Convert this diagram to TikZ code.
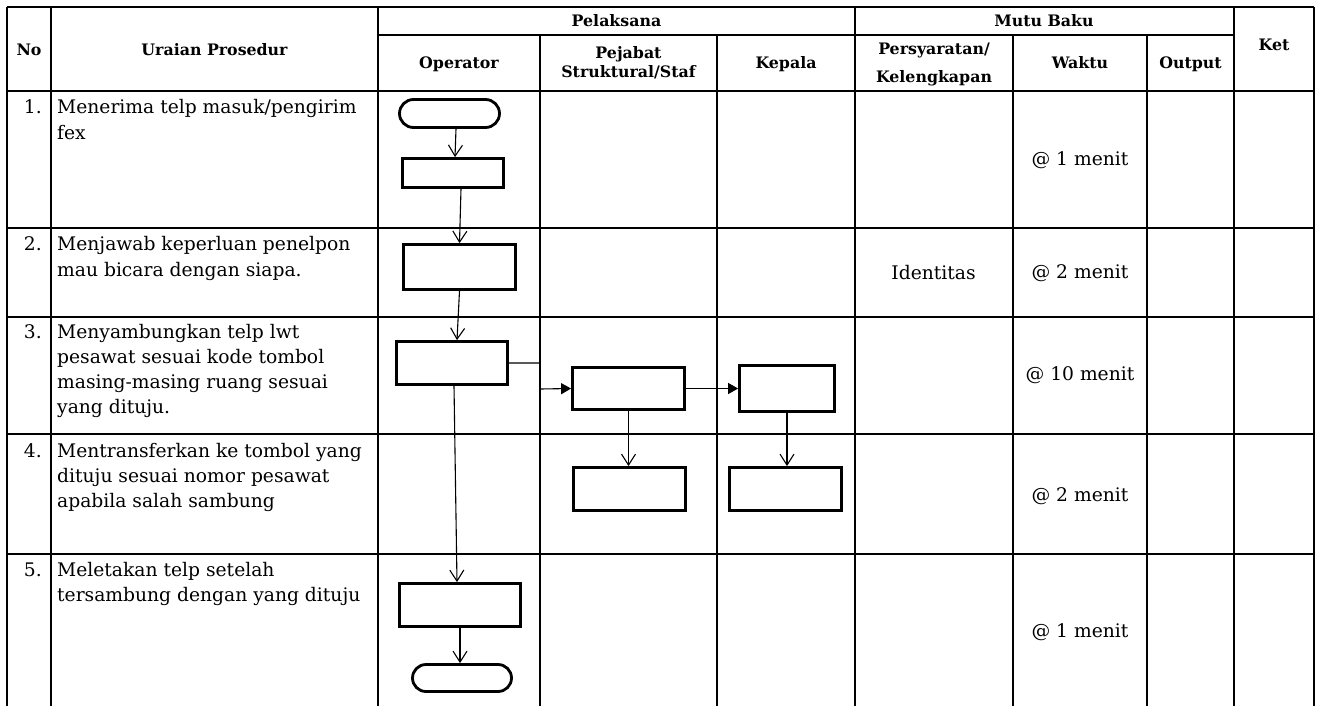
\documentclass[tikz,border=0pt]{standalone}
\usepackage{fontspec}
\setmainfont{DejaVu Serif}
\usetikzlibrary{arrows.meta,shapes.misc}
\begin{document}
\begin{tikzpicture}[x=1pt,y=-1pt,
  grid/.style={line width=2.3pt},
  hd/.style={font=\bfseries\fontsize{15.8}{19}\selectfont, inner sep=0pt, anchor=base},
  bd/.style={font=\fontsize{18.7}{26}\selectfont, inner sep=0pt, anchor=base west},
  num/.style={font=\fontsize{18.7}{26}\selectfont, inner sep=0pt, anchor=base east},
  mid/.style={font=\fontsize{18.7}{26}\selectfont, inner sep=0pt},
  proc/.style={draw, line width=2.8pt, inner sep=0pt},
  term/.style={draw, line width=2.8pt, rounded rectangle, inner sep=0pt},
  flow/.style={line width=1.1pt, -{Straight Barb[length=11pt,width=14pt]}},
  flowf/.style={line width=1.1pt, -{Triangle[length=10pt,width=11pt]}},
]
\useasboundingbox (0,0) rectangle (1317,705);
\clip (0,0) rectangle (1317,705);

% ---------- grid ----------
\draw[grid] (7,7) -- (1314,7);
\draw[grid] (378,35) -- (1234,35);
\foreach \y in {91,228,317,434,554,710} \draw[grid] (7,\y) -- (1314,\y);
\foreach \x in {7,51,378,855,1234,1314} \draw[grid] (\x,7) -- (\x,712);
\foreach \x in {540,717,1013,1147} \draw[grid] (\x,35) -- (\x,712);

% ---------- header ----------
\node[hd] (hno) at (29,55) {No};
\node[hd] (hur) at (214.5,55) {Uraian Prosedur};
\node[hd] (hpel) at (616.5,26) {Pelaksana};
\node[hd] (hop) at (459,68) {Operator};
\node[hd] (hpj1) at (628.5,58) {Pejabat};
\node[hd] (hpj2) at (628.5,77) {Struktural/Staf};
\node[hd] (hkp) at (786,68) {Kepala};
\node[hd] (hmb) at (1044,26) {Mutu Baku};
\node[hd] (hps1) at (934,54) {Persyaratan/};
\node[hd] (hps2) at (934,82) {Kelengkapan};
\node[hd] (hwk) at (1080,68) {Waktu};
\node[hd] (hout) at (1190.5,68) {Output};
\node[hd] (hket) at (1274,50) {Ket};

% ---------- numbers and descriptions ----------
\node[num] (n1) at (42,113) {1.};
\node[bd] (d1a) at (57,113) {Menerima telp masuk/pengirim};
\node[bd] (d1b) at (57,139) {fex};
\node[num] (n2) at (42,250) {2.};
\node[bd] (d2a) at (57,250) {Menjawab keperluan penelpon};
\node[bd] (d2b) at (57,276) {mau bicara dengan siapa.};
\node[num] (n3) at (42,338) {3.};
\node[bd] (d3a) at (57,338) {Menyambungkan telp lwt};
\node[bd] (d3b) at (57,363) {pesawat sesuai kode tombol};
\node[bd] (d3c) at (57,388) {masing-masing ruang sesuai};
\node[bd] (d3d) at (57,413) {yang dituju.};
\node[num] (n4) at (42,457) {4.};
\node[bd] (d4a) at (57,457) {Mentransferkan ke tombol yang};
\node[bd] (d4b) at (57,482) {dituju sesuai nomor pesawat};
\node[bd] (d4c) at (57,507) {apabila salah sambung};
\node[num] (n5) at (42,576) {5.};
\node[bd] (d5a) at (57,576) {Meletakan telp setelah};
\node[bd] (d5b) at (57,601) {tersambung dengan yang dituju};

% ---------- mutu baku ----------
\node[mid] (id2) at (933.5,273) {Identitas};
\node[mid] (w1) at (1080,160) {@ 1 menit};
\node[mid] (w2) at (1080,273) {@ 2 menit};
\node[mid] (w3) at (1080,375) {@ 10 menit};
\node[mid] (w4) at (1080,496) {@ 2 menit};
\node[mid] (w5) at (1080,632) {@ 1 menit};

% ---------- flowchart ----------
\node[term, minimum width=100pt, minimum height=28pt] (st) at (449.5,113.5) {};
\node[proc, minimum width=101pt, minimum height=29pt] (b1) at (453,173) {};
\node[proc, minimum width=112pt, minimum height=45pt] (b2) at (459.5,267) {};
\node[proc, minimum width=111pt, minimum height=43pt] (b3) at (452,363) {};
\node[proc, minimum width=112pt, minimum height=42pt] (b4) at (628.5,388.5) {};
\node[proc, minimum width=95pt, minimum height=46pt] (b5) at (787,388.5) {};
\node[proc, minimum width=112pt, minimum height=43pt] (b6) at (629.5,489) {};
\node[proc, minimum width=112pt, minimum height=43pt] (b7) at (785.5,489) {};
\node[proc, minimum width=121pt, minimum height=43pt] (b8) at (460,605) {};
\node[term, minimum width=99pt, minimum height=27pt] (en) at (462,678) {};

\coordinate (j1) at (540,363);
\coordinate (j2) at (540,389);

\draw[flow] ([xshift=6.5pt]st.south) -- ([xshift=2pt]b1.north);
\draw[flow] ([xshift=8pt]b1.south) -- (b2.north);
\draw[flow] (b2.south) -- ([xshift=5pt]b3.north);
\draw[flowf] (b3.east) -- (j1) -- (j2) -- (b4.west);
\draw[flowf] (b4.east) -- (b5.west);
\draw[flow] (b4.south) -- (b4.south |- b6.north);
\draw[flow] (b5.south) -- (b5.south |- b7.north);
\draw[flow] ([xshift=2pt]b3.south) -- ([xshift=-3pt]b8.north);
\draw[flow] (b8.south) -- (b8.south |- en.north);
\end{tikzpicture}
\end{document}
